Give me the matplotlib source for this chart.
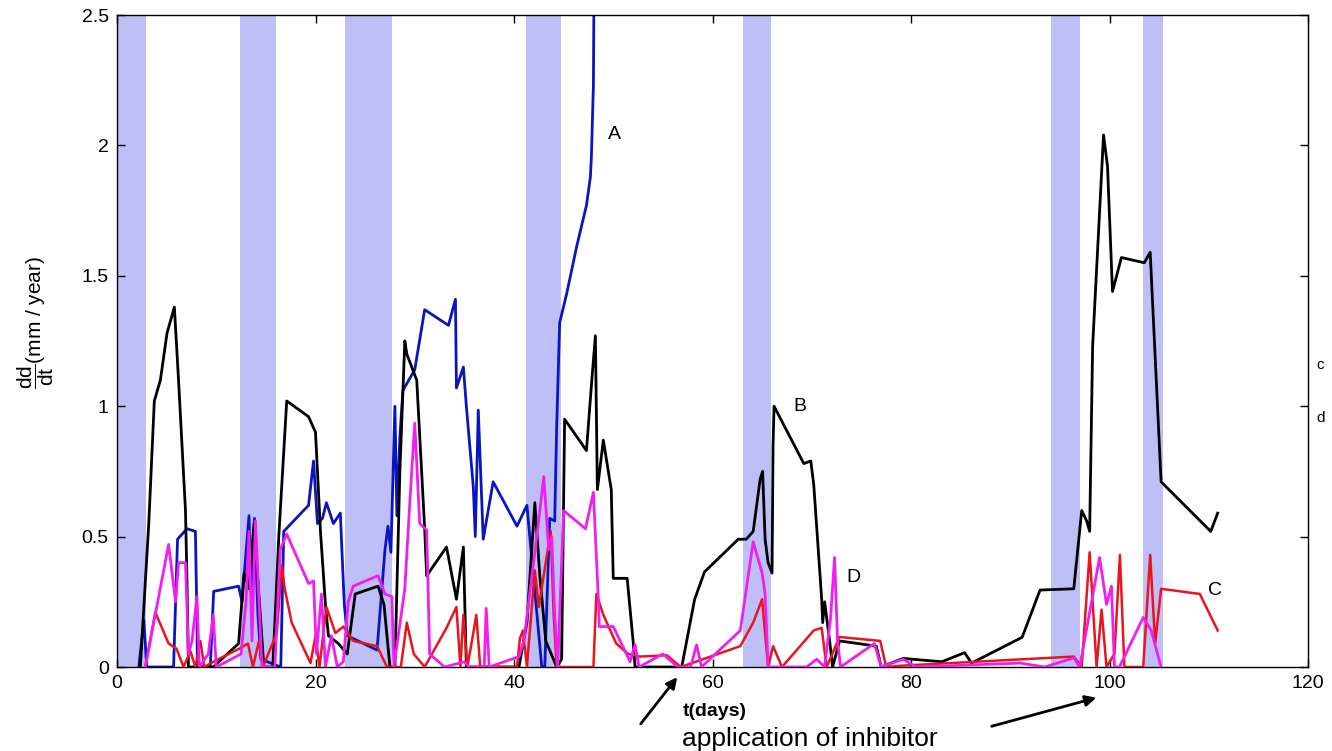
import matplotlib
matplotlib.use("Agg")
import matplotlib.pyplot as plt
from matplotlib.patches import FancyArrowPatch

plt.rcParams['font.family'] = ['Liberation Sans', 'DejaVu Sans']
plt.rcParams['mathtext.fontset'] = 'custom'
plt.rcParams['mathtext.rm'] = 'Liberation Sans'
plt.rcParams['mathtext.it'] = 'Liberation Sans'

# ---------------- data ----------------
bands = [(0, 2.9), (12.4, 16.0), (23.0, 27.7), (41.2, 44.7),
         (63.1, 65.9), (94.1, 97.0), (103.4, 105.4)]

black_t = [2.35, 3.2, 3.76, 4.37, 5.04, 5.78, 6.2, 6.9, 7.05, 7.2,
           9.7, 12.25, 12.8, 13.3, 13.8, 14.8, 15.7, 16.3, 17.1, 19.3,
           20.0, 20.5, 21.0, 21.3, 22.3, 23.2, 24.0, 26.3, 26.9, 27.5,
           28.0, 28.5, 29.0, 29.2, 29.5, 30.2, 31.0, 31.2, 33.2, 34.2,
           34.9, 35.2, 40.5, 41.3, 42.1, 42.6, 43.2, 44.3, 44.8, 45.1,
           47.3, 47.8, 48.2, 48.4, 49.0, 49.8, 50.0, 51.4, 52.0, 52.2,
           56.9, 58.2, 59.2, 62.6, 63.4, 64.1, 64.8, 65.05, 65.3, 65.6,
           66.0, 66.1, 66.2, 69.2, 69.9, 70.2, 71.0, 71.1, 71.3, 71.8,
           72.1, 72.8, 76.5, 77.0, 79.2, 83.1, 85.4, 86.1, 91.2, 93.0,
           96.4, 97.2, 97.7, 98.0, 98.3, 99.4, 99.8, 100.3, 101.2, 103.5,
           104.1, 105.2, 110.2, 110.9]
black_v = [0, 0.55, 1.02, 1.10, 1.28, 1.38, 1.10, 0.60, 0.33, 0,
           0, 0.09, 0.36, 0.30, 0.55, 0, 0, 0.50, 1.02, 0.96,
           0.90, 0.52, 0.24, 0.12, 0.09, 0.05, 0.28, 0.31, 0.24, 0,
           0, 0.75, 1.25, 1.20, 1.17, 1.10, 0.53, 0.35, 0.46, 0.26,
           0.46, 0, 0, 0.17, 0.63, 0.35, 0.10, 0, 0.03, 0.95,
           0.83, 1.08, 1.27, 0.68, 0.87, 0.68, 0.34, 0.34, 0.10, 0,
           0, 0.26, 0.365, 0.49, 0.49, 0.52, 0.72, 0.75, 0.49, 0.40,
           0.36, 0.845, 1.00, 0.78, 0.79, 0.70, 0.26, 0.17, 0.25, 0.10,
           0, 0.10, 0.08, 0, 0.033, 0.02, 0.055, 0.015, 0.114, 0.295,
           0.30, 0.60, 0.56, 0.52, 1.23, 2.04, 1.92, 1.44, 1.57, 1.55,
           1.59, 0.71, 0.52, 0.59]

blue_t = [2.2, 2.7, 3.0, 5.7, 6.1, 7.05, 7.9, 8.06, 8.1, 9.4,
          9.74, 12.25, 12.6, 13.3, 13.6, 13.85, 14.2, 14.5, 16.5, 16.8,
          19.3, 19.8, 20.2, 20.7, 21.1, 21.8, 22.5, 22.9, 23.2, 26.2,
          27.0, 27.3, 27.6, 28.0, 28.2, 28.5, 28.8, 30.0, 31.0, 33.4,
          34.1, 34.2, 34.9, 35.2, 35.9, 36.1, 36.4, 36.9, 37.9, 40.3,
          41.3, 42.8, 43.1, 43.6, 44.1, 44.3, 44.6, 45.3, 46.3, 47.3,
          47.7, 47.8, 48.0, 48.06]
blue_v = [0, 0.18, 0, 0, 0.49, 0.53, 0.52, 0.17, 0, 0,
          0.29, 0.31, 0.25, 0.58, 0.20, 0.57, 0.20, 0.03, 0, 0.52,
          0.62, 0.79, 0.55, 0.57, 0.63, 0.55, 0.59, 0.24, 0.12, 0.065,
          0.45, 0.54, 0.44, 1.00, 0.58, 0.88, 1.06, 1.14, 1.37, 1.31,
          1.41, 1.07, 1.15, 1.00, 0.69, 0.50, 0.985, 0.49, 0.71, 0.54,
          0.62, 0, 0, 0.57, 0.56, 0.92, 1.32, 1.43, 1.61, 1.77,
          1.88, 1.96, 2.23, 2.60]

red_t = [2.85, 3.86, 5.2, 6.0, 6.7, 7.4, 7.9, 8.4, 8.8, 9.7,
         12.3, 13.2, 13.7, 14.3, 14.7, 16.1, 16.6, 16.9, 17.6, 19.5,
         20.0, 20.4, 21.1, 22.0, 22.8, 23.8, 26.2, 27.2, 28.6, 29.2,
         29.9, 31.0, 33.2, 34.2, 34.6, 34.9, 35.3, 35.9, 36.2, 36.6,
         40.3, 40.6, 40.9, 41.3, 42.1, 42.5, 43.4, 43.7, 44.0, 44.3,
         48.0, 48.3, 49.0, 50.3, 51.5, 52.7, 55.4, 56.8, 62.8, 64.1,
         65.0, 65.3, 65.6, 66.1, 67.0, 70.2, 71.0, 71.5, 72.8, 76.9,
         77.5, 79.0, 96.4, 97.2, 98.0, 98.7, 99.2, 99.7, 100.5, 101.05,
         101.5, 103.4, 104.1, 104.6, 105.2, 109.1, 110.9]
red_v = [0, 0.21, 0.09, 0.07, 0, 0.06, 0, 0.10, 0, 0.02,
         0.07, 0.09, 0, 0.10, 0, 0.13, 0.39, 0.30, 0.17, 0.015,
         0.12, 0, 0.23, 0.13, 0.155, 0.10, 0.08, 0, 0, 0.17,
         0.05, 0, 0.15, 0.23, 0, 0.20, 0, 0.13, 0.20, 0,
         0, 0.11, 0.14, 0, 0.37, 0.23, 0.45, 0.52, 0.20, 0,
         0, 0.28, 0.20, 0.09, 0.05, 0.04, 0.045, 0, 0.08, 0.17,
         0.26, 0.13, 0, 0.08, 0, 0.14, 0.15, 0, 0.115, 0.10,
         0, 0.005, 0.04, 0, 0.44, 0, 0.22, 0, 0.05, 0.43,
         0, 0, 0.43, 0.09, 0.30, 0.28, 0.14]

mag_t = [2.85, 5.2, 5.9, 6.2, 6.9, 7.2, 7.56, 8.06, 8.3, 9.2,
         9.7, 10.0, 12.5, 13.0, 13.3, 13.6, 13.95, 14.6, 15.9, 16.45,
         17.1, 19.3, 19.8, 20.1, 20.6, 21.0, 21.6, 22.2, 22.8, 23.3,
         23.8, 26.3, 27.0, 27.7, 27.9, 29.0, 29.5, 30.0, 30.5, 31.2,
         31.5, 33.0, 35.0, 35.5, 37.0, 37.2, 37.5, 40.5, 41.0, 41.8,
         42.3, 43.0, 43.5, 43.8, 44.1, 44.4, 45.0, 47.2, 48.0, 48.5,
         48.6, 50.0, 51.7, 52.2, 52.6, 55.0, 56.5, 57.8, 58.4, 58.9,
         62.8, 64.1, 65.0, 65.3, 65.6, 69.5, 70.5, 71.3, 71.9, 72.3,
         72.6, 72.9, 76.3, 77.0, 79.2, 80.5, 91.0, 93.5, 96.4, 97.0,
         99.0, 99.7, 100.2, 100.5, 101.0, 103.4, 104.2, 105.2]
mag_v = [0, 0.47, 0.25, 0.40, 0.40, 0.05, 0.10, 0.27, 0, 0.05,
         0.20, 0, 0.05, 0.25, 0.52, 0.10, 0.56, 0, 0, 0.45,
         0.51, 0.32, 0.33, 0.05, 0.28, 0, 0.12, 0, 0.02, 0.25,
         0.31, 0.35, 0.28, 0.27, 0, 0.30, 0.63, 0.935, 0.55, 0.525,
         0.05, 0, 0.02, 0, 0, 0.225, 0, 0.04, 0.10, 0.35,
         0.50, 0.73, 0.45, 0.50, 0.20, 0, 0.60, 0.53, 0.67, 0.26,
         0.155, 0.155, 0.02, 0.085, 0, 0.05, 0, 0, 0.085, 0,
         0.14, 0.48, 0.36, 0.28, 0, 0, 0.03, 0, 0.19, 0.42,
         0.10, 0, 0.09, 0, 0.03, 0, 0.015, 0, 0.035, 0,
         0.42, 0.24, 0.31, 0, 0, 0.19, 0.14, 0]

curve_labels = [("A", 49.5, 2.04), ("B", 68.1, 1.0), ("C", 109.9, 0.295), ("D", 73.5, 0.345)]
x_ticks = [0, 20, 40, 60, 80, 100, 120]
y_ticks = [0, 0.5, 1, 1.5, 2, 2.5]
y_ticklabels = ["0", "0.5", "1", "1.5", "2", "2.5"]

# ---------------- figure ----------------
W, H = 1332, 751
fig = plt.figure(figsize=(W / 100, H / 100), dpi=100)
ax = fig.add_axes([117 / W, 1 - 667 / H, (1308 - 117) / W, (667 - 15) / H])

band_color = '#bfbff7'
for a, b in bands:
    ax.axvspan(a, b, color=band_color, lw=0, zorder=0)

ax.plot(blue_t, blue_v, color='#0a14c0', lw=2.0, zorder=2)
ax.plot(black_t, black_v, color='black', lw=2.0, zorder=3)
ax.plot(red_t, red_v, color='#e8141e', lw=1.8, zorder=4)
ax.plot(mag_t, mag_v, color='#f01ef0', lw=2.0, zorder=5)

for s, x, y in curve_labels:
    ax.text(x, y, s, fontsize=14, ha='left', va='center', zorder=6)

ax.set_xlim(0, 120)
ax.set_ylim(0, 2.5)
ax.set_xticks(x_ticks)
ax.set_xticklabels([str(v) for v in x_ticks])
ax.set_yticks(y_ticks)
ax.set_yticklabels(y_ticklabels)
ax.tick_params(direction='in', length=6, width=1, top=True, right=True,
               labelsize=14, pad=6)
for sp in ax.spines.values():
    sp.set_linewidth(1.0)

# y label
fig.text(36 / W, 1 - 322 / H, r'$\dfrac{\mathrm{dd}}{\mathrm{dt}}$(mm / year)',
         rotation=90, ha='center', va='center', fontsize=15)
# x label
fig.text(715 / W, 1 - 711 / H, 't(days)', ha='center', va='center',
         fontsize=14, fontweight='bold')
fig.text(810 / W, 1 - 739 / H, 'application of inhibitor', ha='center',
         va='center', fontsize=19)

# arrows
fig.add_artist(FancyArrowPatch(
    (639 / W, 1 - 726 / H), (679 / W, 1 - 675 / H), transform=fig.transFigure,
    arrowstyle='-|>', mutation_scale=16, lw=2.0, color='black'))
fig.add_artist(FancyArrowPatch(
    (989 / W, 1 - 727 / H), (1099 / W, 1 - 697 / H), transform=fig.transFigure,
    arrowstyle='-|>', mutation_scale=16, lw=2.0, color='black'))

# clipped fragments on the right edge
fig.text(1316 / W, 1 - 365 / H, 'c', fontsize=11, ha='left', va='center')
fig.text(1316 / W, 1 - 418 / H, 'd', fontsize=11, ha='left', va='center')

fig.savefig('out.png', dpi=100)
